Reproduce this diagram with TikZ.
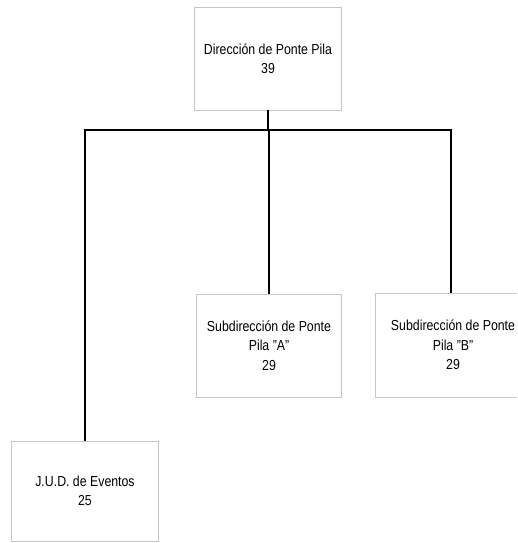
\documentclass[tikz,border=0pt]{standalone}
\usepackage{fontspec}
\setmainfont{Liberation Sans}[FakeStretch=0.85]
\newcommand{\dq}{\char"22\relax}
\begin{document}
\begin{tikzpicture}[x=1pt,y=-1pt,
  unit/.style={draw=gray!45, line width=0.6pt, fill=white, align=center,
    inner sep=0pt, font=\fontsize{14.5}{19.5}\selectfont},
  conn/.style={draw=black, line width=1.8pt}]
  % page frame
  \clip (0,0) rectangle (517,543);
  \fill[white] (0,0) rectangle (517,543);

  % organisation units
  \node[unit, minimum width=147pt, minimum height=103pt] (dir) at (268,58.5)
    {Dirección de Ponte Pila\\39};
  \node[unit, minimum width=145pt, minimum height=103pt] (subA) at (269,345.5)
    {Subdirección de Ponte\\Pila \dq A\dq\\29};
  \node[unit, minimum width=156pt, minimum height=104pt] (subB) at (453,345)
    {Subdirección de Ponte\\Pila \dq B\dq\\29};
  \node[unit, minimum width=147pt, minimum height=100pt] (jud) at (85,491)
    {J.U.D. de Eventos\\25};

  % reporting lines
  \coordinate (bus) at (0,130);
  \draw[conn] (dir.south) -- (dir.south |- bus);
  \draw[conn] (jud.north) |- ([xshift=-2pt]subB.north |- bus) -- ([xshift=-2pt]subB.north);
  \draw[conn] (subA.north |- bus) -- (subA.north);
\end{tikzpicture}
\end{document}
